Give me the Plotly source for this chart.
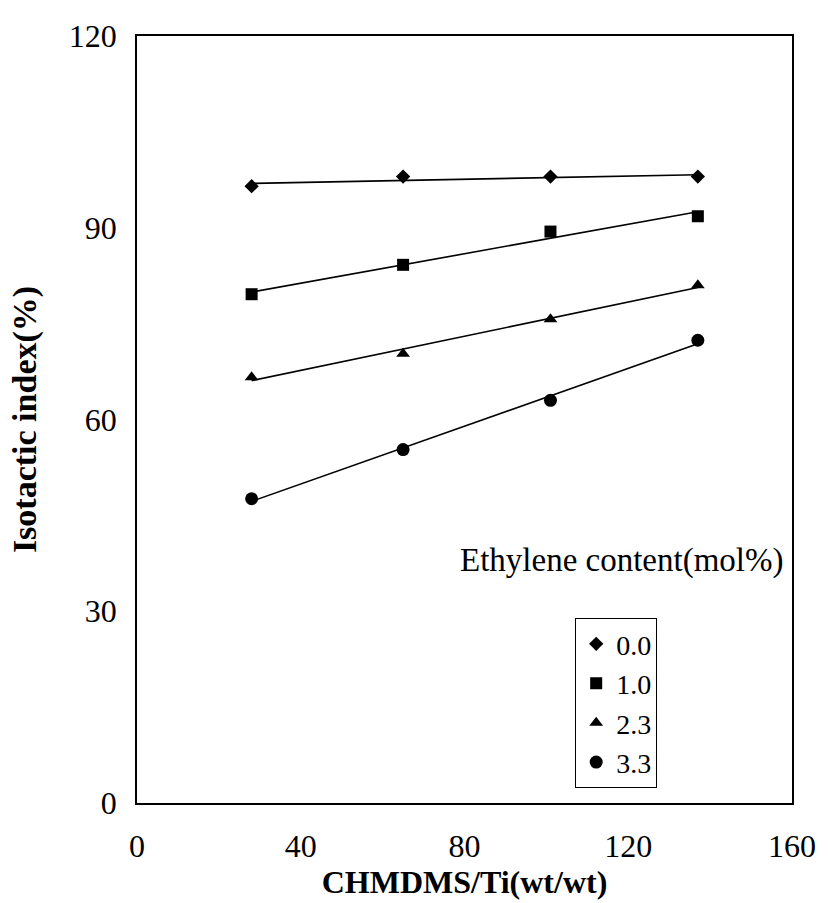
import numpy as np
import plotly.graph_objects as go

x_vals = [28, 65, 101, 137]
labels = ["0.0", "1.0", "2.3", "3.3"]
y_00 = [96.5, 98.0, 98.0, 98.0]
y_10 = [79.6, 84.2, 89.4, 91.8]
y_23 = [66.6, 70.3, 75.7, 81.0]
y_33 = [47.6, 55.3, 63.0, 72.4]
series = [y_00, y_10, y_23, y_33]
symbols = ["diamond", "square", "triangle-up", "circle"]
sizes = [11, 12, 12, 13]

fig = go.Figure()
xs = np.array(x_vals, dtype=float)
for ys, lab, sym, sz in zip(series, labels, symbols, sizes):
    k, b = np.polyfit(xs, np.array(ys), 1)
    fx = [xs.min(), xs.max()]
    fig.add_trace(go.Scatter(x=fx, y=[k * v + b for v in fx], mode="lines",
                             line=dict(color="black", width=1.6), showlegend=False,
                             hoverinfo="skip"))
    fig.add_trace(go.Scatter(x=x_vals, y=ys, mode="markers", name=lab,
                             marker=dict(symbol=sym, size=sz, color="black")))

ff = "Liberation Serif"
fig.update_layout(
    width=828, height=903,
    margin=dict(l=137, r=31, t=36, b=100),
    paper_bgcolor="white", plot_bgcolor="white",
    font=dict(family=ff, color="black", size=28),
    legend=dict(x=0.669, y=0.241, xanchor="left", yanchor="top",
                bordercolor="black", borderwidth=1, bgcolor="white",
                font=dict(size=28, family=ff), itemwidth=30,
                tracegroupgap=0),
    annotations=[dict(text="Ethylene content(mol%)", x=0.99, y=0.29,
                      xref="paper", yref="paper", xanchor="right", yanchor="bottom",
                      showarrow=False, font=dict(size=33, family=ff))],
)
fig.update_xaxes(range=[0, 160], tickvals=[0, 40, 80, 120, 160], showgrid=False,
                 zeroline=False, showline=True, linecolor="black", linewidth=1.5,
                 mirror=True, ticks="", ticklen=0,
                 tickfont=dict(size=32, family=ff), ticklabelstandoff=14,
                 title=dict(text="<b>CHMDMS/Ti(wt/wt)</b>", font=dict(size=32, family=ff), standoff=0))
fig.update_yaxes(range=[0, 120], tickvals=[0, 30, 60, 90, 120], showgrid=False,
                 zeroline=False, showline=True, linecolor="black", linewidth=1.5,
                 mirror=True, ticks="", ticklen=0,
                 tickfont=dict(size=32, family=ff), ticklabelstandoff=12,
                 title=dict(text="<b>Isotactic index(%)</b>", font=dict(size=34, family=ff), standoff=22))

fig.write_html("out.html")
